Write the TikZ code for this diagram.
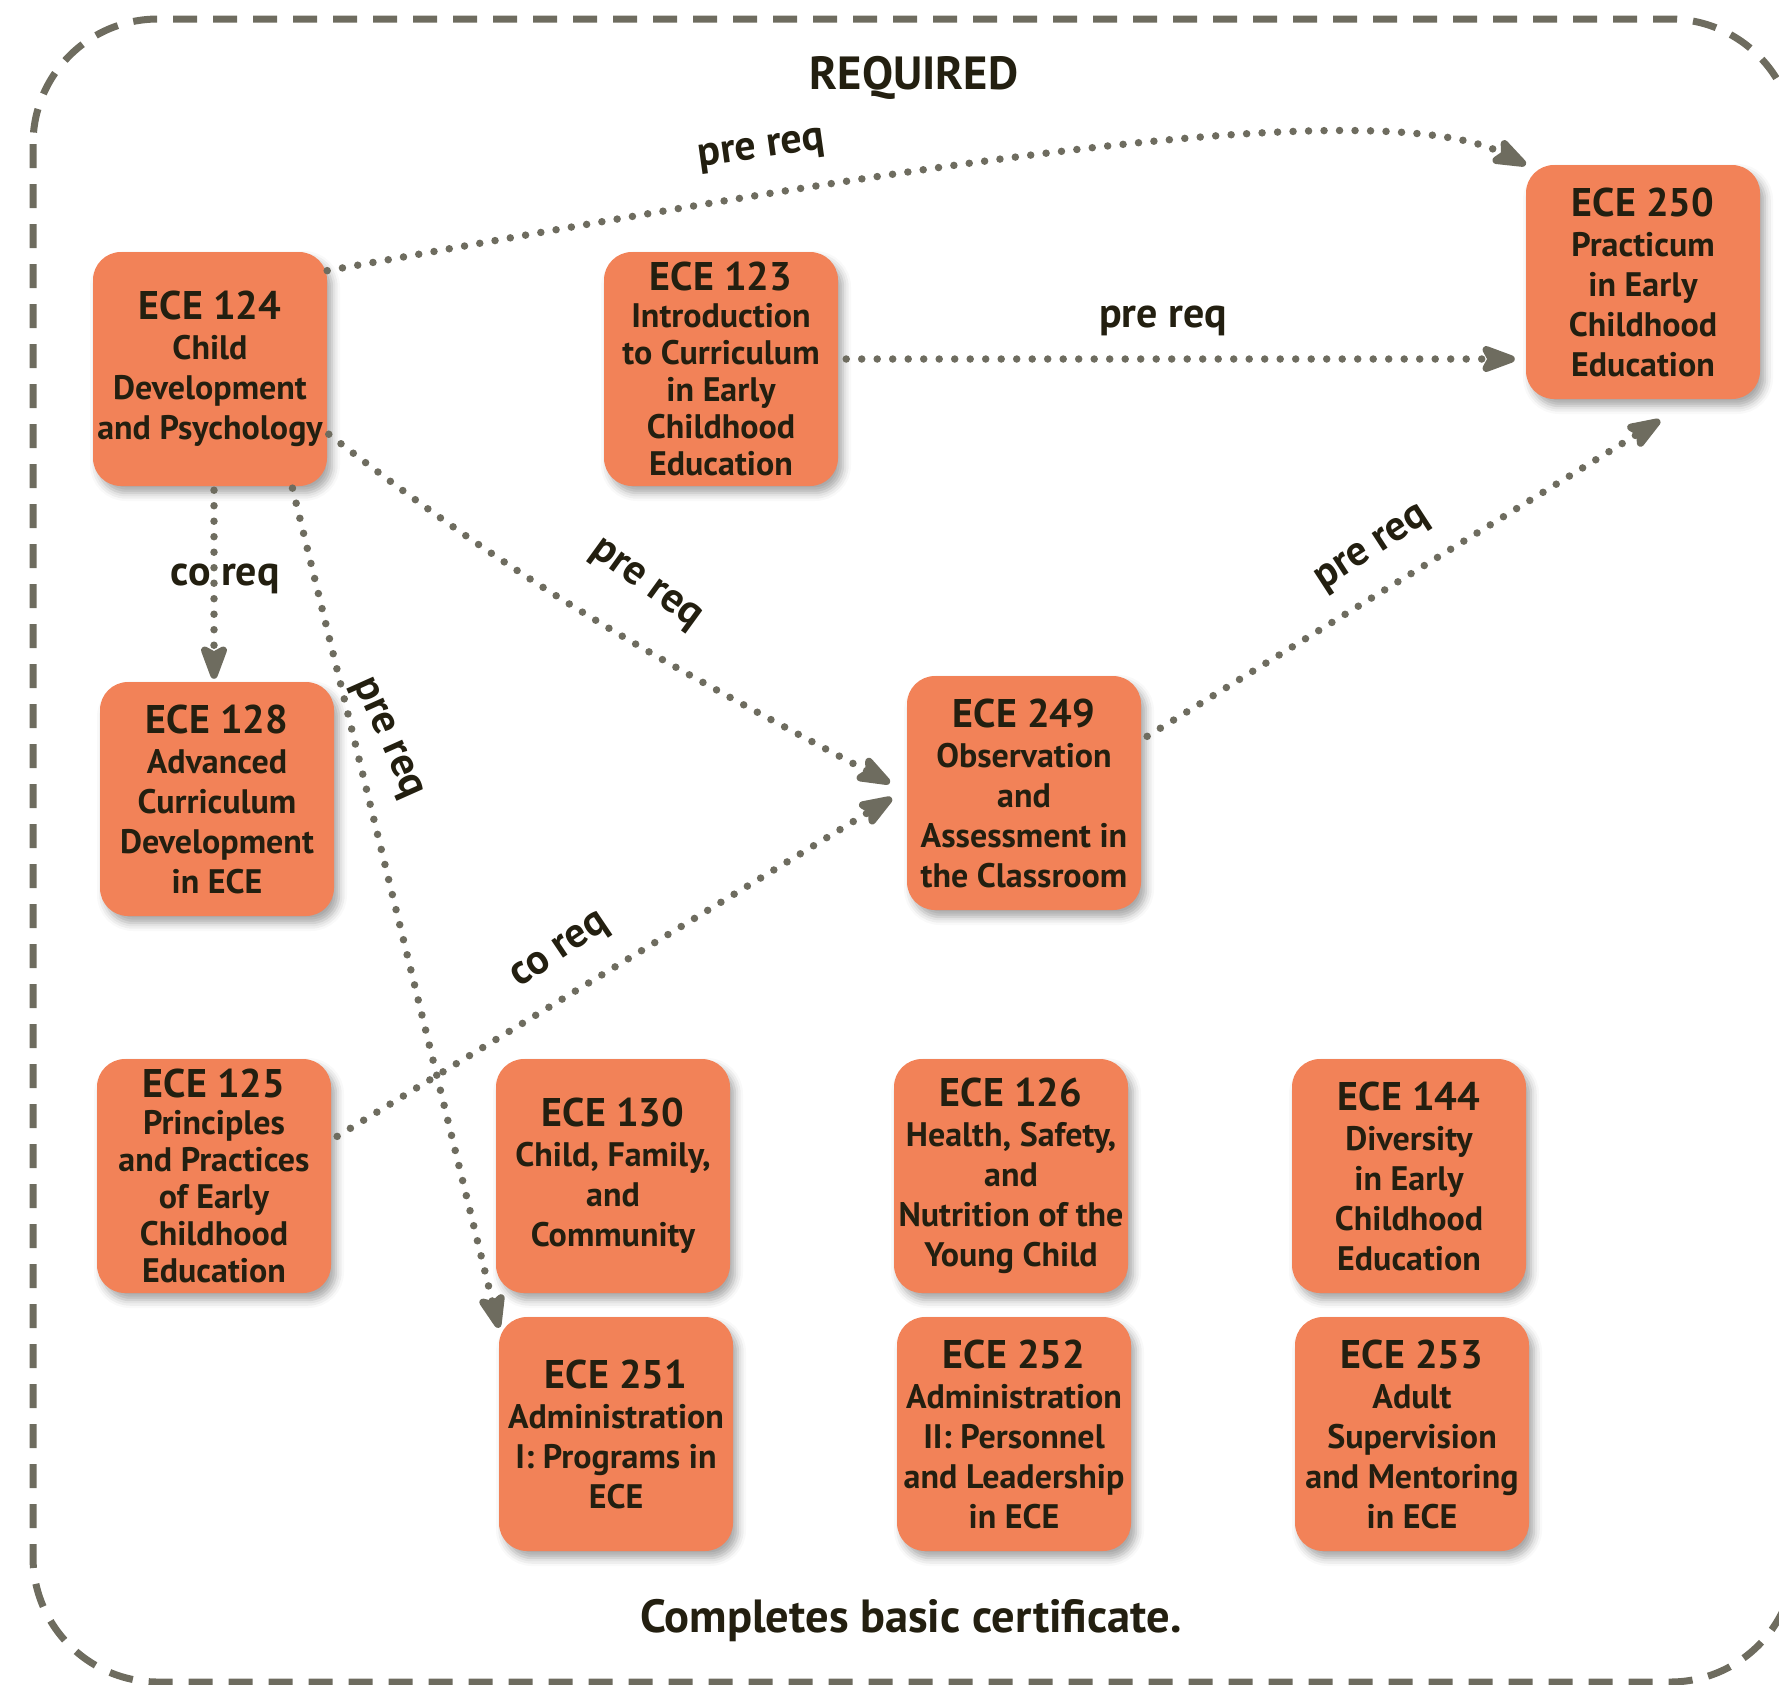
\documentclass[tikz,border=0pt]{standalone}
\usepackage{fontspec}
\setmainfont{PT Sans}
\usetikzlibrary{arrows.meta,shadows.blur,calc}
\definecolor{boxfill}{HTML}{F28258}
\definecolor{ink}{HTML}{231F10}
\definecolor{lgrey}{HTML}{6E6C5F}
\newcommand{\crs}[2]{{\fontsize{40}{40}\selectfont #1}\\#2}
\begin{document}
\begin{tikzpicture}[x=1pt,y=1pt,
  course/.style={rectangle, rounded corners=28pt, minimum width=234pt, minimum height=234pt,
    inner sep=0pt, align=center, fill=boxfill, text=ink,
    font=\bfseries\fontsize{34}{40}\selectfont,
    blur shadow={shadow xshift=5pt, shadow yshift=-7pt, shadow blur radius=8pt, shadow opacity=35}},
  tight/.style={font=\bfseries\fontsize{34}{37}\selectfont},
  link/.style={draw=lgrey, line width=7.5pt, line cap=round, dash pattern=on 0pt off 15.5pt,
    -{Stealth[length=43pt,width=31pt,inset=8pt,round=false]}},
  lbl/.style={text=ink, inner sep=0pt, font=\bfseries\fontsize{42}{44}\selectfont},
  heading/.style={text=ink, inner sep=0pt, font=\bfseries\fontsize{46.5}{50}\selectfont}
]
\useasboundingbox (0,0) rectangle (1779,-1684);
\begin{scope}
\clip (0,0) rectangle (1779,-1684);
\draw[lgrey, line width=7pt, dash pattern=on 24pt off 16pt, rounded corners=125pt]
  (33,-19) rectangle (1795,-1682);
\end{scope}

\node[heading] (req) at (914,-78) {REQUIRED};
\node[heading] (done) at (911,-1621) {Completes basic certificate.};

\node[course] (e124) at (210,-369) {\crs{ECE 124}{Child\\Development\\and Psychology}};
\node[course,tight] (e123) at (721,-369) {\crs{ECE 123}{Introduction\\to Curriculum\\in Early\\Childhood\\Education}};
\node[course] (e250) at (1643,-282) {\crs{ECE 250}{Practicum\\in Early\\Childhood\\Education}};
\node[course] (e128) at (217,-799) {\crs{ECE 128}{Advanced\\Curriculum\\Development\\in ECE}};
\node[course] (e249) at (1024,-793) {\crs{ECE 249}{Observation\\and\\Assessment in\\the Classroom}};
\node[course,tight] (e125) at (214,-1176) {\crs{ECE 125}{Principles\\and Practices\\of Early\\Childhood\\Education}};
\node[course] (e130) at (613,-1176) {\crs{ECE 130}{Child, Family,\\and\\Community}};
\node[course] (e126) at (1011,-1176) {\crs{ECE 126}{Health, Safety,\\and\\Nutrition of the\\Young Child}};
\node[course] (e144) at (1409,-1176) {\crs{ECE 144}{Diversity\\in Early\\Childhood\\Education}};
\node[course] (e251) at (616,-1434) {\crs{ECE 251}{Administration\\I: Programs in\\ECE}};
\node[course] (e252) at (1014,-1434) {\crs{ECE 252}{Administration\\II: Personnel\\and Leadership\\in ECE}};
\node[course] (e253) at (1412,-1434) {\crs{ECE 253}{Adult\\Supervision\\and Mentoring\\in ECE}};

% connectors
\draw[link] (e124.40) .. controls +(392,70) and +(-170,85) .. (e250.north west);
\draw[link, shorten <=8pt] ([yshift=10pt]e123.east) -- ([xshift=-11pt,yshift=-77pt]e250.west);
\draw[link, shorten <=2pt] ([yshift=-64pt]e124.east) to[out=-38,in=152] ([xshift=-17pt,yshift=10pt]e249.west);
\draw[link, shorten <=4pt] ([xshift=4pt]e124.south) -- ([xshift=-3pt,yshift=3pt]e128.north);
\draw[link, shorten <=2pt] ([xshift=82pt]e124.south) -- ([yshift=-11pt]e251.north west);
\draw[link, shorten <=7pt] ([yshift=36pt]e125.east) -- ([xshift=-15pt,yshift=-5pt]e249.west);
\draw[link, shorten <=7pt] ([yshift=53pt]e249.east) -- ([xshift=17pt,yshift=-21pt]e250.south);

% labels
\node[lbl, rotate=8] (l1) at (762,-151) {pre req};
\node[lbl] (l2) at (1163,-321) {pre req};
\node[lbl, rotate=-36] (l3) at (645,-586) {pre req};
\node[lbl] (l4) at (225,-579) {co req};
\node[lbl, rotate=-66] (l5) at (386,-739) {pre req};
\node[lbl, rotate=34] (l6) at (561,-952) {co req};
\node[lbl, rotate=33] (l7) at (1373,-550) {pre req};
\end{tikzpicture}
\end{document}
